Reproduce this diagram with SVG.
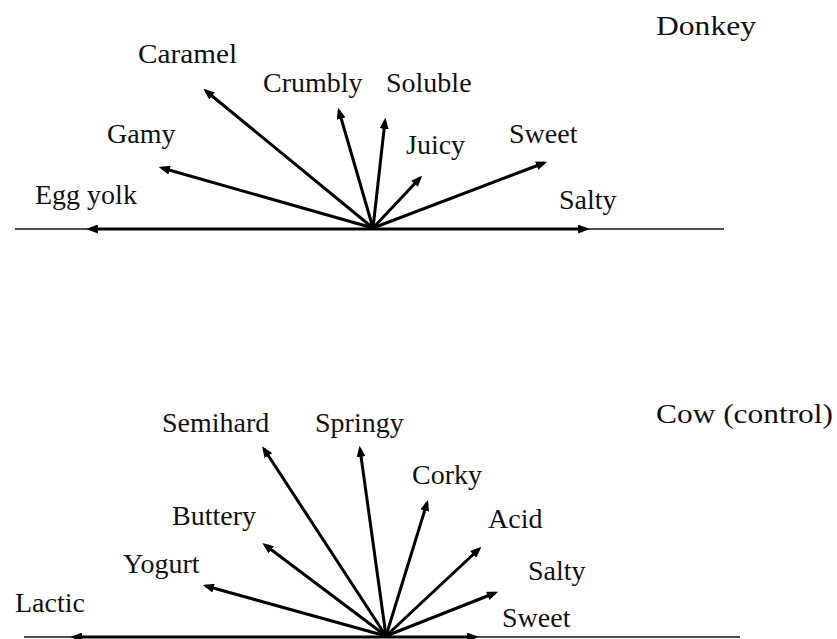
<svg xmlns="http://www.w3.org/2000/svg" width="837" height="639" viewBox="0 0 837 639">
<style>
text{font-size:28px;fill:#111}
.axis{stroke:#111;stroke-width:1.5;fill:none}
.arr{stroke:#000;stroke-width:3;fill:none;marker-end:url(#ah)}
</style>
<defs>
<marker id="ah" viewBox="0 0 10 8" refX="7" refY="4" markerWidth="3.8" markerHeight="3" orient="auto" markerUnits="strokeWidth">
<path d="M0,0 L10,4 L0,8 z" fill="#000"/>
</marker>
</defs>
<rect width="837" height="639" fill="#fff"/>
<g id="connectors">
<line class="axis" x1="15" y1="229" x2="724" y2="229"/>
<line class="arr" x1="373" y1="229" x2="90" y2="229"/>
<line class="arr" x1="373" y1="229" x2="586" y2="229"/>
<line class="arr" x1="373" y1="228" x2="162" y2="168"/>
<line class="arr" x1="373" y1="228" x2="206" y2="91"/>
<line class="arr" x1="373" y1="228" x2="339" y2="111"/>
<line class="arr" x1="373" y1="228" x2="385" y2="121"/>
<line class="arr" x1="373" y1="228" x2="420" y2="178"/>
<line class="arr" x1="373" y1="228" x2="544" y2="163"/>
<line class="axis" x1="24" y1="637" x2="740" y2="637"/>
<line class="arr" x1="386" y1="637" x2="74" y2="637"/>
<line class="arr" x1="386" y1="637" x2="475" y2="637"/>
<line class="arr" x1="386" y1="636" x2="206" y2="586"/>
<line class="arr" x1="386" y1="636" x2="265" y2="545"/>
<line class="arr" x1="386" y1="636" x2="264" y2="449"/>
<line class="arr" x1="386" y1="636" x2="360" y2="449"/>
<line class="arr" x1="386" y1="636" x2="427" y2="503"/>
<line class="arr" x1="386" y1="636" x2="479" y2="549"/>
<line class="arr" x1="386" y1="636" x2="495" y2="593"/>
</g>
<g font-family="Liberation Serif, Times New Roman, DejaVu Serif, serif">
<g id="donkey"><text x="656" y="35" font-size="29" textLength="100" lengthAdjust="spacingAndGlyphs">Donkey</text></g>
<g id="caramel"><text x="138" y="63" textLength="99" lengthAdjust="spacingAndGlyphs">Caramel</text></g>
<g id="crumbly"><text x="263" y="92">Crumbly</text></g>
<g id="soluble"><text x="386" y="92">Soluble</text></g>
<g id="gamy"><text x="107" y="143">Gamy</text></g>
<g id="juicy"><text x="406" y="154">Juicy</text></g>
<g id="sweet-d"><text x="509" y="143">Sweet</text></g>
<g id="eggyolk"><text x="35" y="204">Egg yolk</text></g>
<g id="salty-d"><text x="559" y="209">Salty</text></g>
<g id="cow"><text x="656" y="423" font-size="29" textLength="177" lengthAdjust="spacingAndGlyphs">Cow (control)</text></g>
<g id="semihard"><text x="162" y="432">Semihard</text></g>
<g id="springy"><text x="315" y="432">Springy</text></g>
<g id="corky"><text x="412" y="484">Corky</text></g>
<g id="buttery"><text x="172" y="525">Buttery</text></g>
<g id="acid"><text x="488" y="528">Acid</text></g>
<g id="yogurt"><text x="123" y="573">Yogurt</text></g>
<g id="salty-c"><text x="528" y="580">Salty</text></g>
<g id="lactic"><text x="15" y="612">Lactic</text></g>
<g id="sweet-c"><text x="502" y="627">Sweet</text></g>
</g>
</svg>
